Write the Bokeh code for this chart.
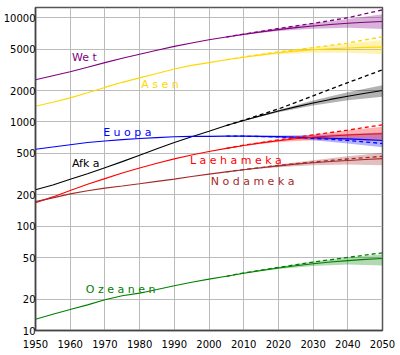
from bokeh.plotting import figure
from bokeh.models import FixedTicker, PrintfTickFormatter, Label, Range1d
from bokeh.embed import file_html
from bokeh.resources import INLINE

# Years for estimates + medium projection
years = [1950, 1955, 1960, 1965, 1970, 1975, 1980, 1985, 1990, 1995, 2000,
         2005, 2010, 2015, 2020, 2025, 2030, 2035, 2040, 2045, 2050]
world = [2535, 2770, 3032, 3343, 3699, 4076, 4451, 4855, 5295, 5719, 6124,
         6515, 6907, 7295, 7667, 8011, 8318, 8587, 8824, 9026, 9191]
asia = [1411, 1542, 1700, 1907, 2142, 2395, 2642, 2914, 3217, 3483, 3704,
        3938, 4166, 4389, 4596, 4773, 4917, 5032, 5120, 5181, 5217]
africa = [224, 248, 282, 319, 364, 416, 480, 553, 635, 721, 812,
          922, 1032, 1149, 1271, 1394, 1518, 1643, 1765, 1884, 1998]
europe = [547, 575, 604, 634, 656, 676, 693, 707, 721, 727, 727,
          731, 730, 727, 722, 715, 707, 698, 687, 676, 664]
latam = [168, 191, 220, 253, 286, 323, 362, 402, 442, 482, 521,
         557, 594, 630, 660, 689, 712, 732, 748, 761, 769]
noram = [172, 187, 204, 219, 232, 243, 255, 269, 283, 300, 316,
         332, 348, 364, 379, 394, 406, 417, 427, 436, 445]
oceania = [12.8, 14.3, 15.9, 17.6, 19.7, 21.5, 22.8, 24.7, 26.9, 29.0, 31.1,
           33.1, 35.4, 37.6, 39.7, 41.8, 43.7, 45.3, 46.8, 48.1, 49.0]

# Projection variants
proj_years = [2005, 2010, 2020, 2030, 2040, 2050]
world_high = [6515, 6970, 7900, 8830, 9700, 10760]
world_low = [6515, 6840, 7430, 7820, 7990, 7790]
world_const = [6515, 6950, 7860, 8800, 9970, 11860]
asia_high = [3938, 4200, 4730, 5220, 5640, 6100]
asia_low = [3938, 4130, 4460, 4610, 4600, 4450]
asia_const = [3938, 4190, 4700, 5150, 5700, 6550]
africa_high = [922, 1040, 1300, 1600, 1920, 2250]
africa_low = [922, 1025, 1240, 1440, 1610, 1740]
africa_const = [922, 1040, 1330, 1780, 2380, 3160]
europe_high = [731, 735, 740, 750, 765, 790]
europe_low = [731, 725, 705, 668, 620, 571]
europe_const = [731, 729, 718, 697, 664, 621]
latam_high = [557, 600, 678, 758, 832, 900]
latam_low = [557, 588, 643, 668, 673, 655]
latam_const = [557, 598, 672, 750, 835, 938]
noram_high = [332, 351, 390, 430, 468, 506]
noram_low = [332, 345, 368, 385, 390, 385]
noram_const = [332, 349, 382, 413, 441, 468]
oceania_high = [33.1, 35.7, 40.6, 46.0, 50.0, 53.8]
oceania_low = [33.1, 35.1, 38.8, 41.6, 43.0, 42.0]
oceania_const = [33.1, 35.6, 40.3, 45.3, 50.2, 55.6]

names = ["We t", "A s e n", "Afk a", "E u o p a", "L a  e h a m e k a", "N o d a m e k a", "O z e a n e n"]
colors = ["#800080", "#FFD700", "#000000", "#0000FF", "#FF0000", "#A52A2A", "#008000"]

series = [
    (world, world_high, world_low, world_const),
    (asia, asia_high, asia_low, asia_const),
    (africa, africa_high, africa_low, africa_const),
    (europe, europe_high, europe_low, europe_const),
    (latam, latam_high, latam_low, latam_const),
    (noram, noram_high, noram_low, noram_const),
    (oceania, oceania_high, oceania_low, oceania_const),
]

label_pos = [(1960.5, 4140), (1980.5, 2285), (1960.5, 399), (1969.5, 791), (1994.5, 427), (2000.5, 268), (1964.5, 24.7)]

p = figure(width=400, height=355, frame_width=347, frame_height=323,
           y_axis_type="log", output_backend="svg", toolbar_location=None,
           min_border_left=35, min_border_right=18, min_border_top=7, min_border_bottom=25)
p.x_range = Range1d(1950, 2050)
p.y_range = Range1d(10, 12500)

for (med, hi, lo, const), c in zip(series, colors):
    p.varea(x=proj_years, y1=lo, y2=hi, fill_color=c, fill_alpha=0.3)
for (med, hi, lo, const), c in zip(series, colors):
    p.line(years, med, line_color=c, line_width=1.1)
    p.line(proj_years, const, line_color=c, line_width=1.3, line_dash="4 3")

for name, c, (lx, ly) in zip(names, colors, label_pos):
    p.add_layout(Label(x=lx, y=ly, text=name, text_color=c, text_font="DejaVu Sans",
                       text_font_size="11px", text_baseline="middle", text_align="left"))

p.xaxis.ticker = FixedTicker(ticks=list(range(1950, 2051, 10)))
p.yaxis.ticker = FixedTicker(ticks=[10, 20, 50, 100, 200, 500, 1000, 2000, 5000, 10000])
p.yaxis.formatter = PrintfTickFormatter(format="%d")
for ax in (p.xaxis, p.yaxis):
    ax.major_label_text_font = "DejaVu Sans"
    ax.major_label_text_font_size = "10px"
    ax.major_label_text_color = "#000000"
    ax.major_tick_line_color = None
    ax.minor_tick_line_color = None
    ax.major_tick_out = 0
    ax.major_tick_in = 0
    ax.minor_tick_out = 0
    ax.minor_tick_in = 0
    ax.axis_line_color = "#444444"
    ax.axis_line_width = 1.5
p.yaxis.major_label_standoff = 0
p.xaxis.major_label_standoff = 9
p.grid.grid_line_color = "#bbbbbb"
p.grid.grid_line_width = 1
p.outline_line_color = "#555555"
p.outline_line_width = 1.5
p.background_fill_color = "white"
p.border_fill_color = "white"

open("out.html", "w").write(file_html(p, INLINE))
